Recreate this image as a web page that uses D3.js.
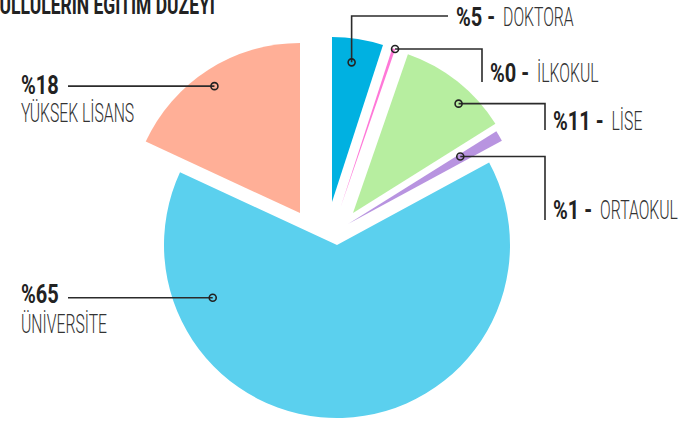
<!DOCTYPE html>
<meta charset="utf-8">
<script src="https://d3js.org/d3.v7.min.js"></script>
<style>
  body { margin: 0; background: #fff; }
  text { font-family: Roboto, "Liberation Sans Narrow", sans-serif; }
</style>
<div id="my_dataviz"></div>
<script>

  // data (shares in %, clockwise from 12 o'clock)
  var categories = ["DOKTORA", "İLKOKUL", "LİSE", "ORTAOKUL", "ÜNİVERSİTE", "YÜKSEK LİSANS"];
  var shares = [5, 0.3, 10.8, 1, 64.8, 18.1];
  var percentLabels = ["%5", "%0", "%11", "%1", "%65", "%18"];
  var title = "GÖNÜLLÜLERİN EĞİTİM DÜZEYİ";

  // styling
  var colors = ["#00b1e1", "#ff78d8", "#b7eea0", "#b894e0", "#5bd0ee", "#ffaf97"];
  var width = 688, height = 422;
  var center = {x: 337, y: 219};
  // each slice is pulled out by hand in the original, so every one gets its own shift
  var shift = [[-5, -17], [4, -13], [16, -6], [11, 5], [0, 26], [-37, -6]];
  var radius = [165, 166, 168, 175, 173, 170];
  // where the leader dot sits inside a slice: [angle deg, distance px]
  var dotPolar = [[8, 141], [19, 166], [44, 152], [59, 131], [247, 135], [326, 153]];
  var fontSize = 25, boldSqueeze = 0.8, lightSqueeze = 0.63, titleSqueeze = 0.7;

  var svg = d3.select("#my_dataviz")
    .append("svg")
      .attr("width", width)
      .attr("height", height);

  var pie = d3.pie().sort(null).value(function(d) { return d; });
  var arcs = pie(shares);

  svg.selectAll("path.slice")
    .data(arcs)
    .enter()
    .append("path")
      .attr("class", "slice")
      .attr("transform", function(d, i) {
        return "translate(" + (center.x + shift[i][0]) + "," + (center.y + shift[i][1]) + ")";
      })
      .attr("d", function(d, i) {
        return d3.arc().innerRadius(0).outerRadius(radius[i])(d);
      })
      .style("fill", function(d, i) { return colors[i]; });

  // position of the little ring at the start of every leader
  function dotAt(i) {
    var a = dotPolar[i][0] * Math.PI / 180, r = dotPolar[i][1];
    return [center.x + shift[i][0] + r * Math.sin(a), center.y + shift[i][1] - r * Math.cos(a)];
  }

  var dots = categories.map(function(c, i) { return dotAt(i); });

  // leader routes
  var leaders = [
    [dots[0], [dots[0][0], 16], [448, 16]],
    [dots[1], [482, dots[1][1]], [482, 82]],
    [dots[2], [545, dots[2][1]], [545, 130]],
    [dots[3], [545, dots[3][1]], [545, 220]],
    [dots[4], [68, dots[4][1]]],
    [dots[5], [68, dots[5][1]]]
  ];

  svg.selectAll("path.leader")
    .data(leaders)
    .enter()
    .append("path")
      .attr("class", "leader")
      .attr("d", d3.line())
      .style("fill", "none")
      .style("stroke", "#2b2b2b")
      .style("stroke-width", 1.6);

  svg.selectAll("circle.dot")
    .data(dots)
    .enter()
    .append("circle")
      .attr("class", "dot")
      .attr("cx", function(d) { return d[0]; })
      .attr("cy", function(d) { return d[1]; })
      .attr("r", 3.5)
      .style("fill", "none")
      .style("stroke", "#222")
      .style("stroke-width", 1.6);

  // condensed lettering: normal glyphs squeezed sideways
  function squeezedText(x, y, bold, str, s) {
    s = s || (bold ? boldSqueeze : lightSqueeze);
    return svg.append("text")
      .attr("transform", "translate(" + x + "," + y + ") scale(" + s + ",1)")
      .style("font-size", fontSize + "px")
      .style("font-weight", bold ? 700 : 300)
      .style("fill", bold ? "#222" : "#333")
      .text(str);
  }

  // labels on the right: "%5 - DOKTORA"
  var rightLabels = [[456, 26, 0], [490, 82, 1], [553, 130, 2], [553, 219, 3]];
  rightLabels.forEach(function(p) {
    var b = squeezedText(p[0], p[1], true, percentLabels[p[2]] + " -");
    var w = b.node().getComputedTextLength() * boldSqueeze;
    squeezedText(p[0] + w + 8, p[1], false, categories[p[2]]);
  });

  // labels on the left: percent above the name, baselines below the leader
  var leftLabels = [[5, 8, 36], [4, 5, 35]];
  leftLabels.forEach(function(p) {
    var i = p[0];
    squeezedText(21, dots[i][1] + p[1], true, percentLabels[i]);
    squeezedText(21, dots[i][1] + p[2], false, categories[i]);
  });

  // title, partly cut off by the frame in the original
  squeezedText(215, 14, true, title, titleSqueeze)
    .attr("text-anchor", "end");

</script>
